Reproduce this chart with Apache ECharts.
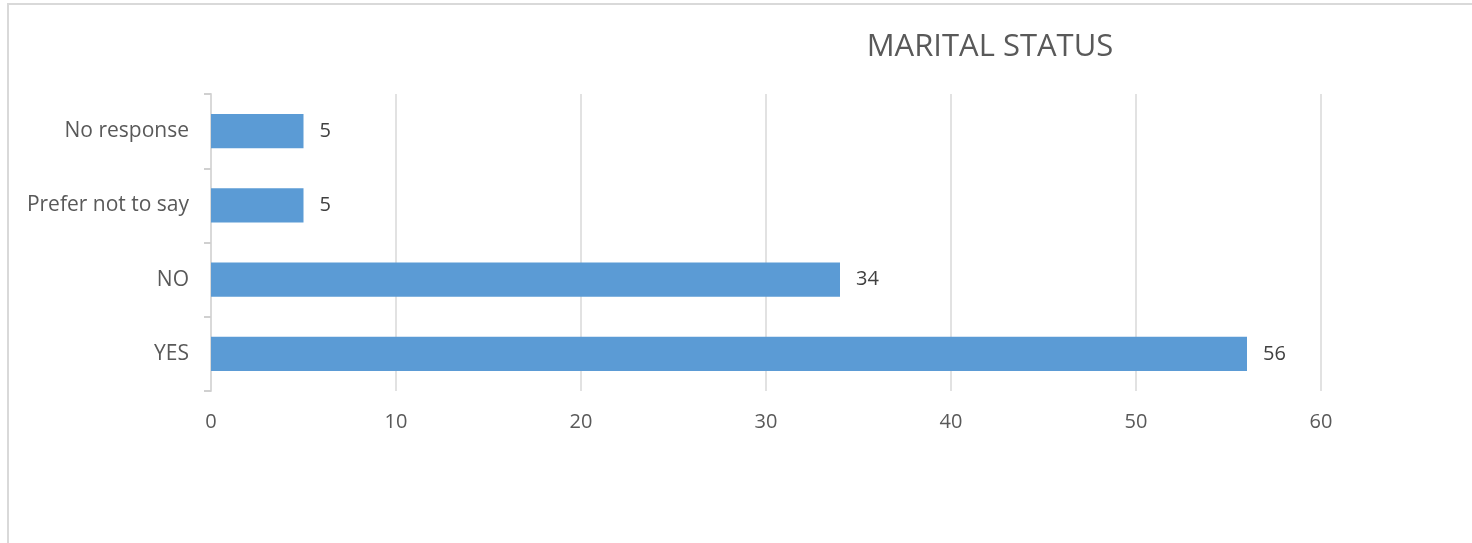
<!DOCTYPE html>
<html>
<head>
<meta charset="utf-8">
<script src="https://cdn.jsdelivr.net/npm/echarts@6/dist/echarts.min.js"></script>
<style>
  html, body { margin: 0; padding: 0; background: #fff; }
  #frame {
    position: absolute; left: 7px; top: 3px; width: 1480px; height: 560px;
    border-top: 2px solid #d9d9d9; border-left: 2px solid #d9d9d9;
  }
  #chart { position: absolute; left: 0; top: 0; width: 1472px; height: 543px; }
</style>
</head>
<body>
<div id="frame"></div>
<div id="chart"></div>
<script>
// data, bottom to top
const categories = ['YES', 'NO', 'Prefer not to say', 'No response'];
const counts = [56, 34, 5, 5];
const xTicks = { min: 0, max: 60, interval: 10 };

const myChart = echarts.init(document.getElementById('chart'));

const option = {
  title: {
    text: 'MARITAL STATUS',
    left: 985,
    top: 27,
    textAlign: 'center',
    textStyle: {
      fontFamily: 'Open Sans',
      fontSize: 31,
      fontWeight: 'normal',
      color: '#595959'
    }
  },
  grid: {
    left: 211,
    right: 151,
    top: 94,
    bottom: 152
  },
  xAxis: {
    type: 'value',
    min: xTicks.min,
    max: xTicks.max,
    interval: xTicks.interval,
    axisLine: { show: false },
    axisTick: { show: false },
    splitLine: { lineStyle: { color: '#d9d9d9', width: 1.5 } },
    axisLabel: {
      margin: 21,
      fontFamily: 'Open Sans',
      fontSize: 20,
      color: '#595959'
    }
  },
  yAxis: {
    type: 'category',
    data: categories,
    axisLine: { lineStyle: { color: '#d9d9d9', width: 2 } },
    axisTick: { show: true, length: 7, lineStyle: { color: '#d0d0d0', width: 2 } },
    axisLabel: {
      margin: 22,
      fontFamily: 'Open Sans',
      fontSize: 21,
      color: '#595959'
    }
  },
  series: [
    {
      type: 'bar',
      data: counts,
      barCategoryGap: '54%',
      itemStyle: { color: '#5b9bd5' },
      label: {
        show: true,
        position: 'right',
        distance: 16,
        fontFamily: 'Open Sans',
        fontSize: 20,
        color: '#404040'
      }
    }
  ]
};

myChart.setOption(option);
</script>
</body>
</html>
